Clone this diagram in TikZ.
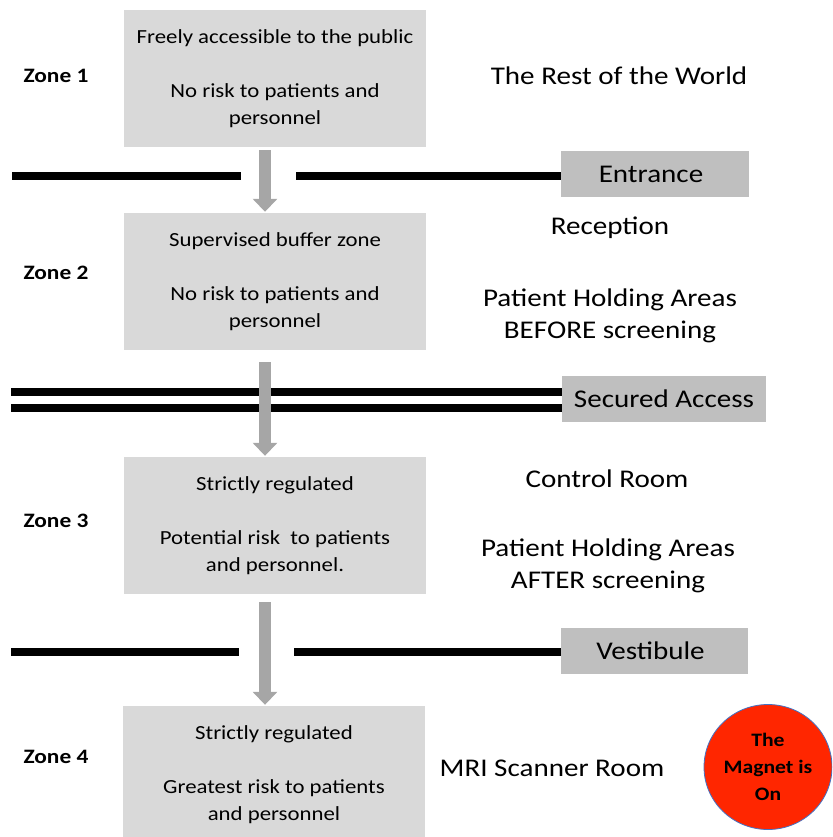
\documentclass[tikz,border=0pt]{standalone}
\usepackage{fontspec}
\setmainfont{Carlito}[FakeStretch=1.14]
\usetikzlibrary{arrows.meta,shapes.geometric}
\definecolor{zonegray}{HTML}{D9D9D9}
\definecolor{gategray}{HTML}{BFBFBF}
\definecolor{arrowgray}{HTML}{A6A6A6}
\definecolor{magnetred}{HTML}{FF2600}
\definecolor{magnetrim}{HTML}{4472C4}
\tikzset{
  zonebox/.style={fill=zonegray, minimum width=302pt, minimum height=137pt,
    align=center, font=\fontsize{20}{27}\selectfont, inner sep=0pt},
  gatebox/.style={fill=gategray, minimum height=46pt, align=center,
    font=\fontsize{25.5}{30}\selectfont, inner sep=0pt},
  zonelabel/.style={font=\bfseries\fontsize{20.5}{24}\selectfont, anchor=west},
  roomlabel/.style={align=center, font=\fontsize{25.5}{32}\selectfont},
  wall/.style={line width=8pt},
  flow/.style={arrowgray, line width=12pt, -{Triangle[width=24pt,length=13pt]},
    shorten <=3pt, shorten >=1pt}
}
\begin{document}
\begin{tikzpicture}[x=1pt,y=-1pt]
  \useasboundingbox (0,0) rectangle (832,837);
  \clip (0,0) rectangle (832,837);
  % zones
  \node[zonebox] (z1) at (275,78.5) {Freely accessible to the public\\[27pt]No risk to patients and\\personnel};
  \node[zonebox] (z2) at (275,281.5) {Supervised buffer zone\\[27pt]No risk to patients and\\personnel};
  \node[zonebox] (z3) at (275,525.5) {Strictly regulated\\[27pt]Potential risk\ \ to patients\\and personnel.};
  \node[zonebox] (z4) at (274,774.5) {Strictly regulated\\[27pt]Greatest risk to patients\\and personnel};
  \node[zonelabel] (l1) at (20,76) {Zone 1};
  \node[zonelabel] (l2) at (20,273) {Zone 2};
  \node[zonelabel] (l3) at (20,521) {Zone 3};
  \node[zonelabel] (l4) at (20,757) {Zone 4};
  % gates
  \node[gatebox, minimum width=188pt] (g1) at (655,174) {Entrance\hspace{8pt}};
  \node[gatebox, minimum width=204pt] (g2) at (664,399) {Secured Access};
  \node[gatebox, minimum width=187pt] (g3) at (654.5,651) {Vestibule\hspace{8pt}};
  \draw[wall] (12,176) -- (241,176);
  \draw[wall] (296,176) -- (g1.west |- 0,176);
  \draw[wall] (11,391.5) -- (g2.west |- 0,391.5);
  \draw[wall] (11,408) -- (g2.west |- 0,408);
  \draw[wall] (11,652) -- (239,652);
  \draw[wall] (294,652) -- (g3.west |- 0,652);
  % arrows
  \draw[flow] (z1.south -| 265,0) -- (z2.north -| 265,0);
  \draw[flow] (z2.south -| 265,0) ++(0,9) -- (z3.north -| 265,0);
  \draw[flow] (z3.south -| 265,0) ++(0,5) -- (z4.north -| 265,0);
  % rooms
  \node[roomlabel] (r1) at (619,76) {The Rest of the World};
  \node[roomlabel] (r2) at (610,228) {Reception};
  \node[roomlabel] (r3) at (610,316) {Patient Holding Areas\\BEFORE screening};
  \node[roomlabel] (r4) at (607,479) {Control Room};
  \node[roomlabel] (r5) at (608,566) {Patient Holding Areas\\AFTER screening};
  \node[roomlabel] (r6) at (552,768) {MRI Scanner Room};
  \node[ellipse, fill=magnetred, draw=magnetrim, line width=0.8pt,
    minimum width=128pt, minimum height=125pt, align=center, inner sep=0pt,
    font=\bfseries\fontsize{19}{27}\selectfont] (mag) at (768,767) {The\\Magnet is\\On};
\end{tikzpicture}
\end{document}
